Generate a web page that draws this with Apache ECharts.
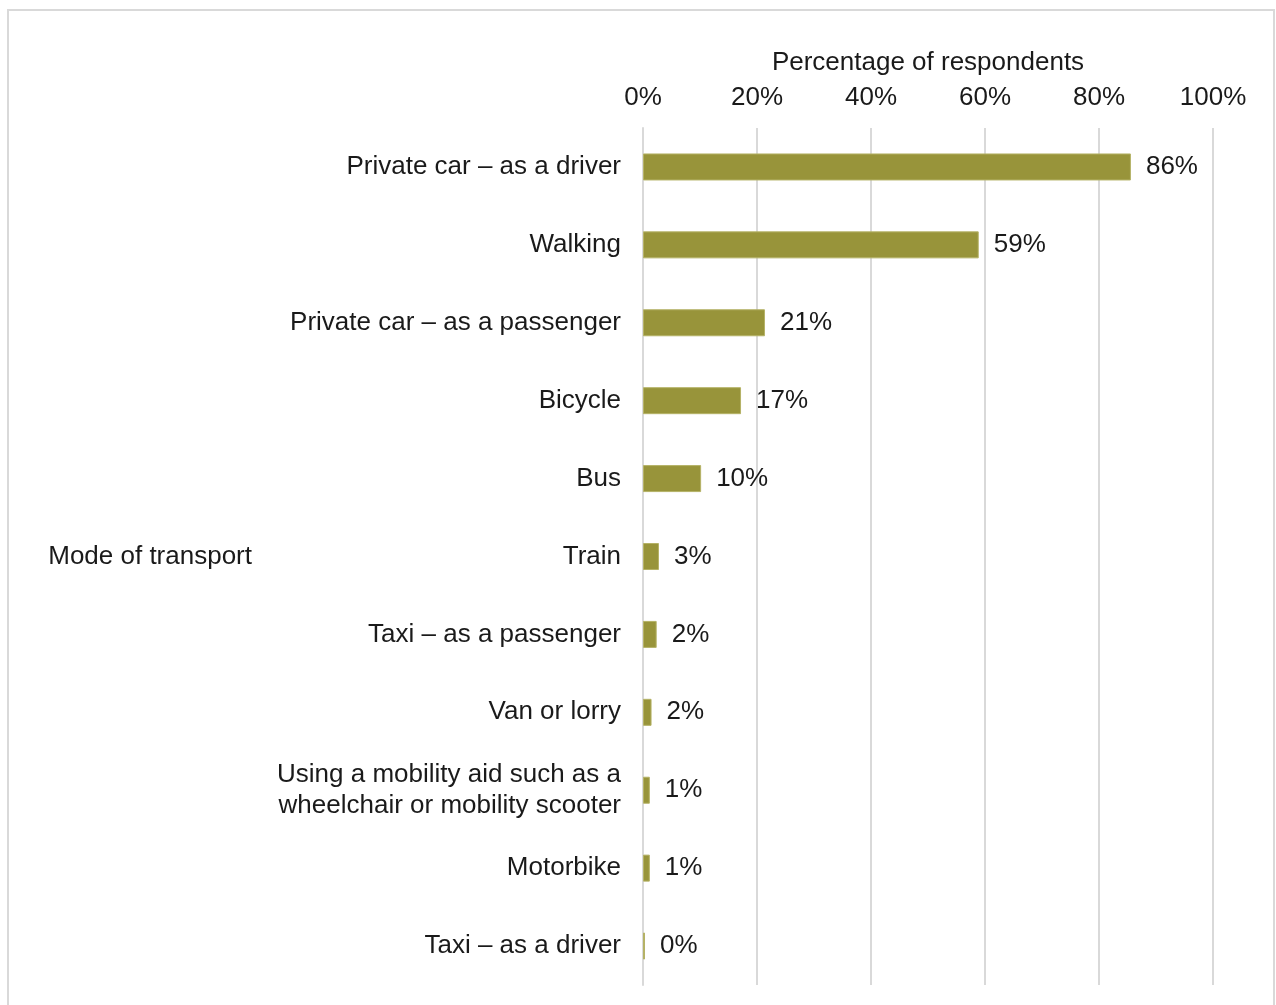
<!DOCTYPE html>
<html>
<head>
<meta charset="utf-8">
<script src="https://cdn.jsdelivr.net/npm/echarts@6/dist/echarts.min.js"></script>
<style>
html,body{margin:0;padding:0;background:#fff;}
#chart{width:1276px;height:1005px;}
</style>
</head>
<body>
<div id="chart"></div>
<script>
var categories = [
  "Private car \u2013 as a driver",
  "Walking",
  "Private car \u2013 as a passenger",
  "Bicycle",
  "Bus",
  "Train",
  "Taxi \u2013 as a passenger",
  "Van or lorry",
  "Using a mobility aid such as a\nwheelchair or mobility scooter",
  "Motorbike",
  "Taxi \u2013 as a driver"
];
var values = [85.6, 58.9, 21.4, 17.2, 10.2, 2.8, 2.4, 1.5, 1.2, 1.2, 0.35];
var xTicks = [0, 20, 40, 60, 80, 100];

var chart = echarts.init(document.getElementById('chart'), null, {renderer: 'canvas'});
var font = 'Liberation Sans, Arial, sans-serif';
var fs = 26;
chart.setOption({
  animation: false,
  backgroundColor: '#ffffff',
  textStyle: {fontFamily: font},
  graphic: [{
    type: 'rect',
    shape: {x: 8, y: 10, width: 1266, height: 1005},
    style: {fill: 'none', stroke: '#d9d9d9', lineWidth: 2},
    silent: true,
    z: -1
  }],
  grid: {left: 643, right: 63, top: 128, bottom: 20, containLabel: false},
  xAxis: {
    type: 'value',
    position: 'top',
    min: xTicks[0],
    max: xTicks[xTicks.length - 1],
    interval: 20,
    name: 'Percentage of respondents',
    nameLocation: 'middle',
    nameGap: 52,
    nameTextStyle: {fontSize: fs, color: '#1a1a1a', fontFamily: font},
    axisLine: {show: false},
    axisTick: {show: false},
    axisLabel: {fontSize: fs, color: '#1a1a1a', margin: 17, fontFamily: font,
      formatter: function (v) { return v + '%'; }},
    splitLine: {show: true, lineStyle: {color: '#d9d9d9', width: 2}}
  },
  yAxis: {
    type: 'category',
    inverse: true,
    data: categories,
    name: 'Mode of transport',
    nameLocation: 'middle',
    nameRotate: 0,
    nameGap: 391,
    nameTextStyle: {fontSize: fs, color: '#1a1a1a', fontFamily: font, align: 'right', lineHeight: 31, padding: [4, 0, 0, 0]},
    axisLine: {show: true, lineStyle: {color: '#d9d9d9', width: 2}},
    axisTick: {show: false},
    axisLabel: {fontSize: fs, color: '#1a1a1a', margin: 22, fontFamily: font, lineHeight: 31, align: 'right', padding: [4, 0, 0, 0]}
  },
  series: [{
    type: 'bar',
    data: values,
    barWidth: 27,
    itemStyle: {color: '#98943a', borderColor: '#b5b266', borderWidth: 1},
    label: {
      show: true,
      position: 'right',
      distance: 15,
      fontSize: fs,
      color: '#1a1a1a',
      fontFamily: font,
      padding: [4, 0, 0, 0],
      formatter: function (p) { return Math.round(p.value) + '%'; }
    }
  }]
});
</script>
</body>
</html>
